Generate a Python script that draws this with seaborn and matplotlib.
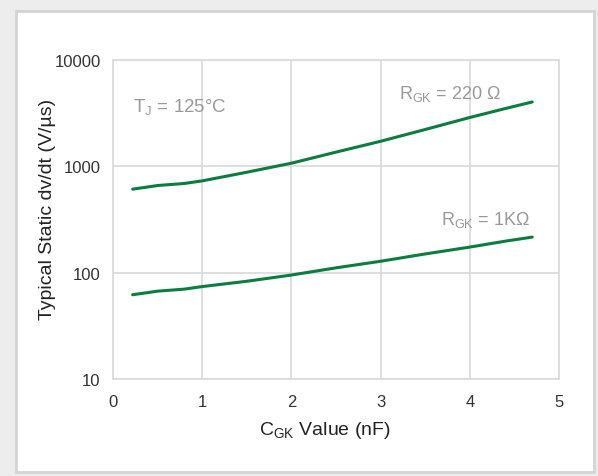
import numpy as np
import pandas as pd
import matplotlib.pyplot as plt
import seaborn as sns
from matplotlib.patches import Rectangle

# Values
cgk_nf = [0.22, 0.5, 0.8, 1.0, 1.5, 2.0, 2.5, 3.0, 3.5, 4.0, 4.4, 4.7]
dvdt_220 = [610, 660, 690, 730, 880, 1070, 1360, 1720, 2220, 2880, 3500, 4030]
dvdt_1k = [62, 67, 70, 74, 83, 95, 111, 128, 150, 174, 198, 216]
series_names = ['220', '1K']

df = pd.DataFrame({
    'C_GK': cgk_nf * 2,
    'dvdt': dvdt_220 + dvdt_1k,
    'R_GK': [series_names[0]] * len(cgk_nf) + [series_names[1]] * len(cgk_nf),
})

sns.set_style('white')
plt.rcParams['font.family'] = ['Liberation Sans', 'DejaVu Sans']

fig = plt.figure(figsize=(5.98, 4.77), dpi=100)
fig.patch.set_facecolor('#ededed')

# white card with light border behind the chart
card = Rectangle((16 / 598, 1 - 473 / 477), 578 / 598, 461 / 477,
                 transform=fig.transFigure, facecolor='white',
                 edgecolor='#d4d4d4', linewidth=2, zorder=-5)
fig.patches.append(card)

ax = fig.add_axes([113 / 598, 1 - 380 / 477, 446 / 598, 319 / 477])
ax.set_facecolor('white')

sns.lineplot(data=df, x='C_GK', y='dvdt', hue='R_GK',
             palette=['#0b7d3e', '#0b7d3e'], linewidth=2.2,
             legend=False, ax=ax)

ax.set_yscale('log')
ax.set_xlim(0, 5)
ax.set_ylim(10, 10000)
ax.set_xticks([0, 1, 2, 3, 4, 5])
ax.set_yticks([10, 100, 1000, 10000])
ax.set_yticklabels(['10', '100', '1000', '10000'])
ax.yaxis.set_minor_locator(plt.NullLocator())
ax.grid(True, color='#d9d9d9', linewidth=1.2)
for s in ax.spines.values():
    s.set_color('#d9d9d9')
    s.set_linewidth(1.2)
ax.tick_params(length=0, labelsize=12, colors='#333333')
ax.tick_params(axis='x', pad=11)
ax.tick_params(axis='y', pad=9)

ax.set_xlabel('C$_{\\mathregular{GK}}$ Value (nF)', fontsize=14, color='#222222')
ax.set_ylabel('Typical Static dv/dt (V/\u00b5s)', fontsize=14, color='#222222')
ax.xaxis.set_label_coords(0.475, -0.125)
ax.yaxis.set_label_coords(-0.128, 0.535)

ax.text(0.22, 3650, 'T$_{\\mathregular{J}}$ = 125\u00b0C', fontsize=13.5,
        color='#999999', va='center')
ax.text(3.21, 4850, 'R$_{\\mathregular{GK}}$ = 220 \u03a9', fontsize=13,
        color='#999999', va='center')
ax.text(3.68, 320, 'R$_{\\mathregular{GK}}$ = 1K\u03a9', fontsize=13,
        color='#999999', va='center')

fig.savefig('out.png', dpi=100, facecolor=fig.get_facecolor())
